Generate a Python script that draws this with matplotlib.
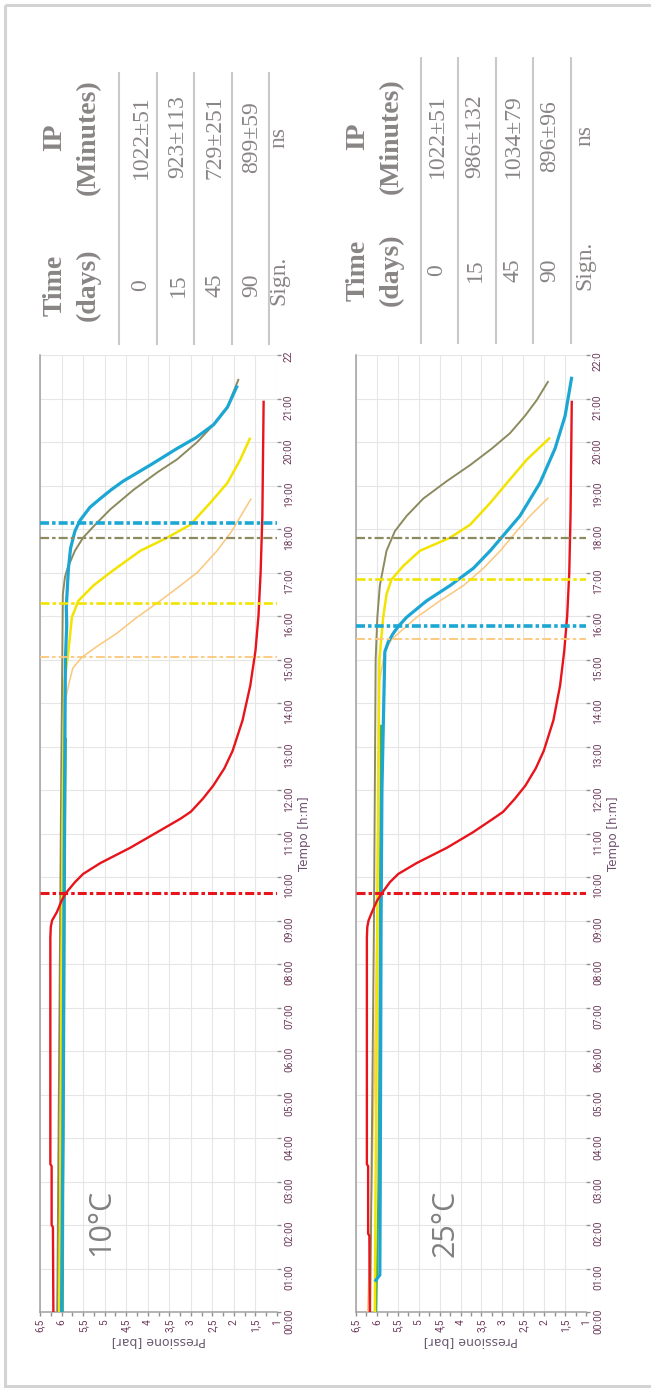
import matplotlib
matplotlib.use('Agg')
import matplotlib.pyplot as plt
from matplotlib.patches import Rectangle
from matplotlib.ticker import MultipleLocator

plt.rcParams['lines.scale_dashes'] = False
plt.rcParams['lines.solid_capstyle'] = 'butt'
plt.rcParams['lines.solid_joinstyle'] = 'round'

# ---- table data ----
days = ['0', '15', '45', '90']
ip_10 = ['1022±51', '923±113', '729±251', '899±59']
ip_25 = ['1022±51', '986±132', '1034±79', '896±96']
sign_10 = 'ns'
sign_25 = 'ns'

# ---- axis ticks ----
hour_ticks = list(range(23))
hour_labels_10 = ['%02d:00' % h for h in range(22)] + ['22']
hour_labels_25 = ['%02d:00' % h for h in range(22)] + ['22:0']
p_ticks = [6.5, 6, 5.5, 5, 4.5, 4, 3.5, 3, 2.5, 2, 1.5, 1]
p_labels = ['6,5', '6', '5,5', '5', '4,5', '4', '3,5', '3', '2,5', '2', '1,5', '1']

# ---- 10 C curves (time h, pressure bar) ----
red_10_t = [0, 1.95, 2.0, 3.35, 3.4, 8.6, 8.85, 9.0, 9.19, 9.45, 9.63, 9.88, 10.07, 10.32,
            10.67, 11.03, 11.34, 11.5, 11.8, 12.1, 12.5, 12.9, 13.6, 14.4, 15.2, 16.0, 17.0,
            18.3, 20.95]
red_10_p = [6.19, 6.20, 6.23, 6.23, 6.26, 6.26, 6.25, 6.22, 6.11, 6.0, 5.90, 5.69, 5.50, 5.10,
            4.41, 3.78, 3.24, 3.00, 2.72, 2.48, 2.22, 2.03, 1.8, 1.62, 1.5, 1.43, 1.38,
            1.34, 1.31]
blue_10_t = [0, 4, 8, 12, 15, 15.8, 16.2, 17.1, 17.56, 17.95, 18.2, 18.5, 18.7, 18.9, 19.1,
             19.47, 19.85, 20.1, 20.4, 20.8, 21.3]
blue_10_p = [6.0, 5.97, 5.95, 5.93, 5.91, 5.88, 5.89, 5.84, 5.79, 5.69, 5.57, 5.34, 5.10, 4.85,
             4.57, 3.94, 3.32, 2.88, 2.47, 2.15, 1.92]
olive_10_t = [0, 4, 8, 12, 16.5, 16.9, 17.1, 17.5, 17.8, 18.1, 18.45, 18.9, 19.3, 19.6, 20.0,
              20.4, 20.8, 21.45]
olive_10_p = [6.10, 6.07, 6.04, 6.01, 5.97, 5.92, 5.86, 5.69, 5.50, 5.22, 4.87, 4.33, 3.78,
              3.32, 2.85, 2.47, 2.15, 1.89]
yellow_10_t = [0, 4, 8, 12, 14.5, 15.2, 15.97, 16.35, 16.7, 17.0, 17.5, 17.8, 18.1, 18.6, 19.06,
               19.6, 20.1]
yellow_10_p = [6.05, 6.02, 6.0, 5.97, 5.93, 5.84, 5.76, 5.61, 5.26, 4.87, 4.17, 3.55, 3.01, 2.55,
               2.15, 1.85, 1.62]
orange_10_t = [0, 4, 8, 12, 14.0, 14.4, 14.8, 15.05, 15.3, 15.6, 15.97, 16.35, 16.7, 17.0, 17.5,
               17.95, 18.4, 18.7]
orange_10_p = [6.10, 6.03, 5.99, 5.95, 5.92, 5.84, 5.74, 5.53, 5.18, 4.72, 4.25, 3.71, 3.24, 2.85,
               2.39, 2.05, 1.78, 1.60]
green_10_t = [0, 3, 6, 9, 12, 13.2]
green_10_p = [5.97, 5.96, 5.94, 5.93, 5.91, 5.90]

# ---- 25 C curves ----
red_25_t = [0, 1.75, 1.8, 3.35, 3.4, 8.6, 8.85, 9.0, 9.19, 9.45, 9.63, 9.88, 10.07, 10.32,
            10.67, 11.03, 11.34, 11.5, 11.8, 12.1, 12.5, 12.9, 13.6, 14.4, 15.2, 16.0, 17.0,
            18.3, 20.95]
red_25_p = [6.17, 6.18, 6.21, 6.21, 6.24, 6.24, 6.23, 6.20, 6.12, 6.0, 5.88, 5.69, 5.49, 5.05,
            4.33, 3.70, 3.22, 2.98, 2.70, 2.45, 2.20, 2.01, 1.78, 1.62, 1.52, 1.45, 1.40,
            1.37, 1.34]
blue_25_t = [0.7, 0.85, 3, 6, 9, 12, 15.18, 15.4, 15.6, 15.76, 15.97, 16.35, 16.7, 17.1, 17.5,
             17.95, 18.3, 19.06, 19.85, 20.6, 21.5]
blue_25_p = [6.05, 5.93, 5.92, 5.91, 5.90, 5.88, 5.81, 5.73, 5.61, 5.49, 5.29, 4.81, 4.25, 3.69,
             3.29, 2.89, 2.58, 2.10, 1.74, 1.50, 1.34]
olive_25_t = [0, 3, 6, 9, 12, 15, 15.97, 16.7, 17.5, 17.95, 18.3, 18.7, 19.1, 19.47, 19.85,
              20.2, 20.6, 20.96, 21.4]
olive_25_p = [6.16, 6.13, 6.10, 6.07, 6.05, 6.03, 5.99, 5.93, 5.77, 5.57, 5.29, 4.89, 4.33, 3.77,
              3.25, 2.82, 2.46, 2.18, 1.90]
yellow_25_t = [0, 3, 6, 9, 12, 15, 15.97, 16.5, 16.84, 17.15, 17.5, 17.8, 18.1, 18.6, 19.06,
               19.6, 20.1]
yellow_25_p = [6.05, 6.03, 6.01, 5.99, 5.97, 5.94, 5.85, 5.77, 5.65, 5.37, 4.97, 4.25, 3.77, 3.29,
               2.89, 2.41, 1.86]
orange_25_t = [0, 3, 6, 9, 12, 14.5, 15.18, 15.46, 15.7, 15.97, 16.35, 16.7, 17.1, 17.5, 17.95,
               18.3, 18.72]
orange_25_p = [6.22, 6.12, 6.05, 6.0, 5.97, 5.94, 5.81, 5.65, 5.37, 5.05, 4.49, 3.93, 3.45, 3.05,
               2.66, 2.34, 1.90]
green_25_t = [0, 0.8, 3, 6, 9, 12, 13.5]
green_25_p = [6.02, 6.0, 5.96, 5.94, 5.93, 5.91, 5.90]

# ---- induction point markers (h) ----
ip_names_10 = ['red', 'orange', 'yellow', 'olive', 'blue']
ip_hours_10 = [9.63, 15.05, 16.31, 17.79, 18.13]
ip_names_25 = ['red', 'orange', 'blue', 'yellow', 'olive']
ip_hours_25 = [9.63, 15.46, 15.76, 16.84, 17.79]

colors = {'red': '#e8141c', 'blue': '#1ba6d3', 'olive': '#8c8a5e', 'yellow': '#f2e400',
          'orange': '#fcc77a', 'green': '#4caf50'}
curve_lw = {'red': 1.7, 'blue': 2.3, 'olive': 1.4, 'yellow': 1.8, 'orange': 1.1, 'green': 1.5}
ip_lw = {'red': 2.2, 'blue': 2.6, 'olive': 1.6, 'yellow': 1.9, 'orange': 1.3}
dashdot = (0, (6.5, 2.2, 2.5, 2.2))

TICK_COL = '#6d3b5c'
W, H = 651, 1390


def px_box(x0, x1, ytop, ybot):
    return [x0 / W, 1 - ybot / H, (x1 - x0) / W, (ybot - ytop) / H]


def draw_chart(ax, curves, ip_names, ip_hours, hour_labels, temp_label, label_pos):
    ax.set_xlim(6.5, 1)
    ax.set_ylim(0, 22)
    ax.set_axisbelow(True)
    ax.xaxis.set_major_locator(MultipleLocator(0.5))
    ax.xaxis.set_minor_locator(MultipleLocator(0.25))
    ax.grid(True, which='major', color='#e6e6e6', lw=0.8)
    ax.set_xticks(p_ticks)
    ax.set_xticklabels(p_labels)
    ax.set_yticks(hour_ticks)
    ax.set_yticklabels(hour_labels)
    ax.yaxis.tick_right()
    ax.yaxis.set_label_position('right')
    for s in ['top', 'right']:
        ax.spines[s].set_visible(False)
    for s in ['left', 'bottom']:
        ax.spines[s].set_color('#a0a0a0')
        ax.spines[s].set_linewidth(1.1)
    ax.tick_params(axis='y', which='both', direction='out', length=3, width=1, color='#909090',
                   labelsize=7.3, labelcolor=TICK_COL, labelrotation=90, pad=2, right=True, left=False)
    ax.tick_params(axis='x', which='both', direction='out', length=3, width=1, color='#909090',
                   labelsize=7.3, labelcolor=TICK_COL, labelrotation=90, pad=2)
    for lab in ax.get_xticklabels() + ax.get_yticklabels():
        lab.set_fontfamily('Roboto')

    for name, t, p in curves:
        ax.plot(p, t, color=colors[name], lw=curve_lw[name], zorder=3)
    for name, h in zip(ip_names, ip_hours):
        ax.axhline(h, color=colors[name], lw=ip_lw[name], ls=dashdot, zorder=4)

    ax.set_ylabel('Tempo [h:m]', rotation=90, fontsize=8.5, color='#6e4f6e', labelpad=3,
                  family='DejaVu Sans')
    ax.set_xlabel('Pressione [bar]', rotation=180, fontsize=9, color='#6a5a72', labelpad=2,
                  family='DejaVu Sans')
    ax.text(label_pos[0], label_pos[1], temp_label, transform=ax.transAxes, rotation=90,
            ha='center', va='center', fontsize=22, color='#808080', family='Open Sans')


def draw_table(bg, line_xs, ytop, ybot, head_x, row_xs, sign_x, day_y, ip_y, ip_vals, sign):
    for x in line_xs:
        bg.plot([x, x], [ytop, ybot], color='#c9c9c9', lw=1.5)
    txt = dict(rotation=90, ha='center', va='center', family='Liberation Serif')
    head = dict(fontsize=20, fontweight='bold', color='#8a8585', **txt)
    body = dict(fontsize=17, color='#8a8585', **txt)
    bg.text(head_x[0], day_y, 'Time', **head)
    bg.text(head_x[1], day_y, '(days)', **head)
    bg.text(head_x[0], ip_y, 'IP', **head)
    bg.text(head_x[1], ip_y, '(Minutes)', **head)
    for x, d, v in zip(row_xs, days, ip_vals):
        bg.text(x, day_y, d, **body)
        bg.text(x, ip_y, v, **body)
    bg.text(sign_x, day_y - 5, 'Sign.', **body)
    bg.text(sign_x, ip_y, sign, **body)


fig = plt.figure(figsize=(6.51, 13.90), dpi=100)
bg = fig.add_axes([0, 0, 1, 1])
bg.set_xlim(0, W)
bg.set_ylim(H, 0)
bg.axis('off')
bg.add_patch(Rectangle((5, 5), 700, 1381, fill=False, ec='#d3d3d3', lw=2.2))

draw_table(bg, [119, 157, 194, 232, 269], 72, 345, [55, 88], [141, 178, 215, 252], 279,
           285, 137, ip_10, sign_10)
draw_table(bg, [421, 458, 496, 533, 571], 57, 344, [358, 391], [437, 475, 513, 550], 585,
           270, 136, ip_25, sign_25)

ax1 = fig.add_axes(px_box(40, 277, 355, 1312))
curves_10 = [('green', green_10_t, green_10_p), ('orange', orange_10_t, orange_10_p),
             ('olive', olive_10_t, olive_10_p), ('yellow', yellow_10_t, yellow_10_p),
             ('blue', blue_10_t, blue_10_p), ('red', red_10_t, red_10_p)]
draw_chart(ax1, curves_10, ip_names_10, ip_hours_10, hour_labels_10, '10°C', (0.257, 0.094))

ax2 = fig.add_axes(px_box(356, 586, 355, 1312))
curves_25 = [('green', green_25_t, green_25_p), ('orange', orange_25_t, orange_25_p),
             ('olive', olive_25_t, olive_25_p), ('yellow', yellow_25_t, yellow_25_p),
             ('blue', blue_25_t, blue_25_p), ('red', red_25_t, red_25_p)]
draw_chart(ax2, curves_25, ip_names_25, ip_hours_25, hour_labels_25, '25°C', (0.387, 0.093))

fig.savefig('out.png', dpi=100)
